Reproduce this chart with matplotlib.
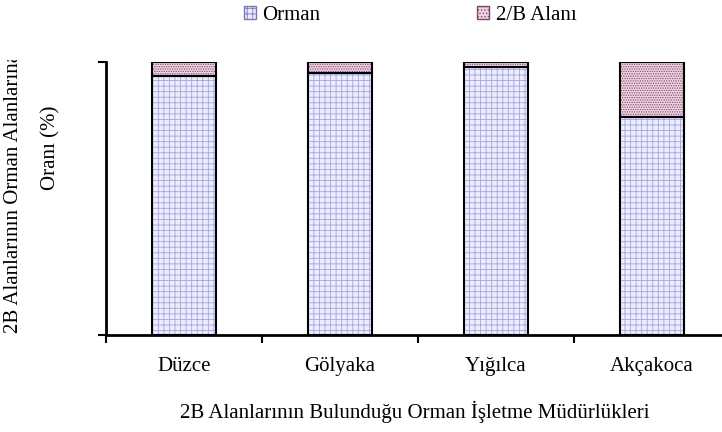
import matplotlib
matplotlib.use('Agg')
import numpy as np
from matplotlib import pyplot as plt
from matplotlib.patches import Patch, Rectangle

plt.rcParams['font.family'] = ['Liberation Serif', 'DejaVu Serif']
plt.rcParams['hatch.linewidth'] = 0.6

# data
categories = ['Düzce', 'Gölyaka', 'Yığılca', 'Akçakoca']
orman = [94.9, 96.0, 98.2, 79.9]
alan_2b = [5.1, 4.0, 1.8, 20.1]
series_names = ['Orman', '2/B Alanı']

W, H = 722, 432
fig = plt.figure(figsize=(W/100, H/100), dpi=100)
ax = fig.add_axes([106/W, 1 - 335/H, 624/W, 273/H])

x = np.arange(len(categories))
w = 0.41
c_orman, h_orman = '#ececfb', '#a4a4e6'
c_2b, h_2b = '#f0d2e2', '#7a4a6a'

# hatch layers (hatch colour drawn through edgecolor), then black outlines
ax.bar(x, orman, w, color=c_orman, edgecolor=h_orman, hatch='+++', linewidth=0)
ax.bar(x, alan_2b, w, bottom=orman, color=c_2b, edgecolor=h_2b, hatch='.......', linewidth=0)
ax.bar(x, orman, w, fill=False, edgecolor='black', linewidth=1.5)
ax.bar(x, alan_2b, w, bottom=orman, fill=False, edgecolor='black', linewidth=1.5)

ax.set_xlim(-0.5, len(categories) - 0.5)
ax.set_ylim(0, 100)
ax.set_yticks([0, 100])
ax.set_yticklabels([])
ax.set_xticks(np.arange(len(categories) + 1) - 0.5, minor=True)
ax.set_xticks(x)
ax.set_xticklabels(categories, fontsize=15)
ax.tick_params(axis='x', which='major', length=0, pad=16)
ax.tick_params(axis='x', which='minor', length=6, width=1.5)
ax.tick_params(axis='y', length=6, width=1.5)

for s in ['top', 'right']:
    ax.spines[s].set_visible(False)
ax.spines['left'].set_linewidth(2)
ax.spines['bottom'].set_linewidth(2)

# y label: first line runs past its box and gets cut off at the top
t1 = fig.text(14/W, 1 - 333/H, '2B Alanlarının Orman Alanlarına', rotation=90,
              ha='center', va='bottom', fontsize=15)
t1.set_clip_path(Rectangle((0, 0), 1, 1 - 60/H, transform=fig.transFigure))
fig.text(51/W, 1 - 148/H, 'Oranı (%)', rotation=90, ha='center', va='center', fontsize=15)

fig.text(415/W, 1 - 412/H, '2B Alanlarının Bulunduğu Orman İşletme Müdürlükleri',
         ha='center', va='center', fontsize=15)

handles = [Patch(facecolor=c_orman, edgecolor='#7878c0', hatch='+++'),
           Patch(facecolor=c_2b, edgecolor=h_2b, hatch='.....')]
fig.legend(handles, series_names, loc='center', bbox_to_anchor=(410/W, 1 - 15/H),
           ncol=2, frameon=False, fontsize=15, handlelength=0.6, handleheight=0.6,
           handletextpad=0.3, columnspacing=7.5)

fig.savefig('out.png', dpi=100)
